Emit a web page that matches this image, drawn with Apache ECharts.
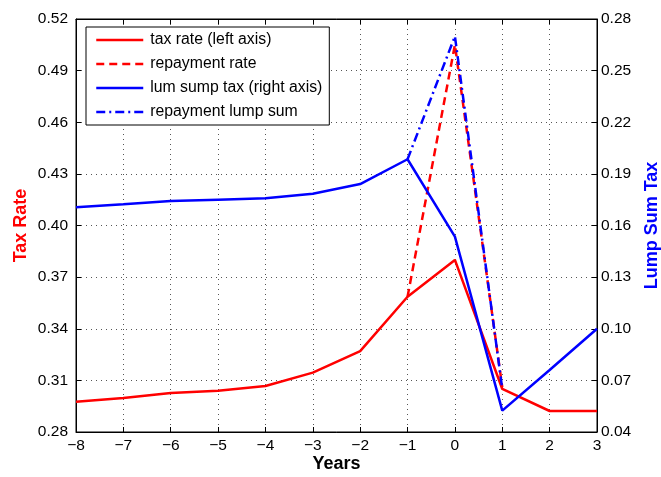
<!DOCTYPE html>
<html><head><meta charset="utf-8">
<script src="https://cdn.jsdelivr.net/npm/echarts@6/dist/echarts.min.js"></script>
<style>html,body{margin:0;padding:0;background:#fff}#c{width:661px;height:477px}</style>
</head><body><div id="c"></div>
<script>
var years = [-8, -7, -6, -5, -4, -3, -2, -1, 0, 1, 2, 3];
var taxRate = [0.2976, 0.2998, 0.3027, 0.3040, 0.3067, 0.3145, 0.3270, 0.3586, 0.3800, 0.3050, 0.2922, 0.2922];
var lumpSum = [0.1706, 0.1723, 0.1742, 0.1750, 0.1758, 0.1785, 0.1841, 0.1985, 0.1535, 0.0524, 0.0760, 0.1000];
var repayYears = [-1, 0, 1];
var repayRate = [0.3586, 0.5050, 0.3060];
var repayLump = [0.1985, 0.2700, 0.0650];
var seriesNames = ['tax rate (left axis)', 'repayment rate', 'lum sump tax (right axis)', 'repayment lump sum'];

function pairs(xs, ys) { return xs.map(function (x, i) { return [x, ys[i]]; }); }
var FONT = 'Liberation Sans, Arial, Helvetica, sans-serif';
var minus = function (v) { return String(v).replace('-', '\u2212'); };
var gridLine = { show: true, lineStyle: { type: [1, 4], color: '#555', width: 1 } };
var tick = { show: true, inside: true, length: 5, lineStyle: { color: '#000' } };
var axLine = { show: true, onZero: false, lineStyle: { color: '#000', width: 1 } };

var chart = echarts.init(document.getElementById('c'), null, { renderer: 'canvas' });
chart.setOption({
  animation: false,
  backgroundColor: '#fff',
  grid: { left: 76, right: 64, top: 19, bottom: 45, show: true, borderColor: '#000', borderWidth: 1, backgroundColor: 'transparent', outerBoundsMode: 'none', containLabel: false },
  legend: {
    orient: 'vertical', left: 86, top: 27,
    backgroundColor: '#fff', borderColor: '#000', borderWidth: 1,
    padding: [5, 7, 5, 9], itemGap: 8, itemWidth: 47, itemHeight: 14,
    itemStyle: { opacity: 0 },
    lineStyle: { width: 2.5 },
    textStyle: { fontFamily: FONT, fontSize: 15.8, lineHeight: 14, color: '#000', padding: [0, 0, 0, 2] },
    data: seriesNames
  },
  xAxis: [{
    type: 'value', min: -8, max: 3, interval: 1, position: 'bottom',
    name: 'Years', nameLocation: 'middle', nameGap: 23, nameMoveOverlap: false,
    nameTextStyle: { fontFamily: FONT, fontSize: 18, fontWeight: 'bold', color: '#000' },
    axisLine: axLine, axisTick: tick,
    axisLabel: { fontFamily: FONT, fontSize: 15.5, color: '#000', margin: 6, formatter: minus },
    splitLine: gridLine
  }, {
    type: 'value', min: -8, max: 3, interval: 1, position: 'top',
    axisLine: axLine, axisTick: tick,
    axisLabel: { show: false }, splitLine: { show: false }
  }],
  yAxis: [{
    type: 'value', min: 0.28, max: 0.52, interval: 0.03, position: 'left',
    name: 'Tax Rate', nameLocation: 'middle', nameGap: 46, nameRotate: 90, nameMoveOverlap: false,
    nameTextStyle: { fontFamily: FONT, fontSize: 18, fontWeight: 'bold', color: '#ff0000' },
    axisLine: axLine, axisTick: tick,
    axisLabel: { fontFamily: FONT, fontSize: 15.5, color: '#000', margin: 8, formatter: function (v) { return v.toFixed(2); } },
    splitLine: gridLine
  }, {
    type: 'value', min: 0.04, max: 0.28, interval: 0.03, position: 'right',
    name: 'Lump Sum Tax', nameLocation: 'middle', nameGap: 46, nameRotate: 90, nameMoveOverlap: false,
    nameTextStyle: { fontFamily: FONT, fontSize: 18, fontWeight: 'bold', color: '#0000ff' },
    axisLine: axLine, axisTick: tick,
    axisLabel: { fontFamily: FONT, fontSize: 15.5, color: '#000', margin: 4, formatter: function (v) { return v.toFixed(2); } },
    splitLine: { show: false }
  }],
  series: [{
    name: seriesNames[0], type: 'line', xAxisIndex: 0, yAxisIndex: 0, symbol: 'none',
    data: pairs(years, taxRate), lineStyle: { color: '#ff0000', width: 2.5 }, itemStyle: { color: '#ff0000' }
  }, {
    name: seriesNames[1], type: 'line', xAxisIndex: 0, yAxisIndex: 0, symbol: 'none',
    data: pairs(repayYears, repayRate), lineStyle: { color: '#ff0000', width: 2.5, type: [8, 5] }, itemStyle: { color: '#ff0000' }
  }, {
    name: seriesNames[2], type: 'line', xAxisIndex: 0, yAxisIndex: 1, symbol: 'none',
    data: pairs(years, lumpSum), lineStyle: { color: '#0000ff', width: 2.5 }, itemStyle: { color: '#0000ff' }
  }, {
    name: seriesNames[3], type: 'line', xAxisIndex: 0, yAxisIndex: 1, symbol: 'none',
    data: pairs(repayYears, repayLump), lineStyle: { color: '#0000ff', width: 2.5, type: [9, 4, 2, 4] }, itemStyle: { color: '#0000ff' }
  }]
});
</script></body></html>
